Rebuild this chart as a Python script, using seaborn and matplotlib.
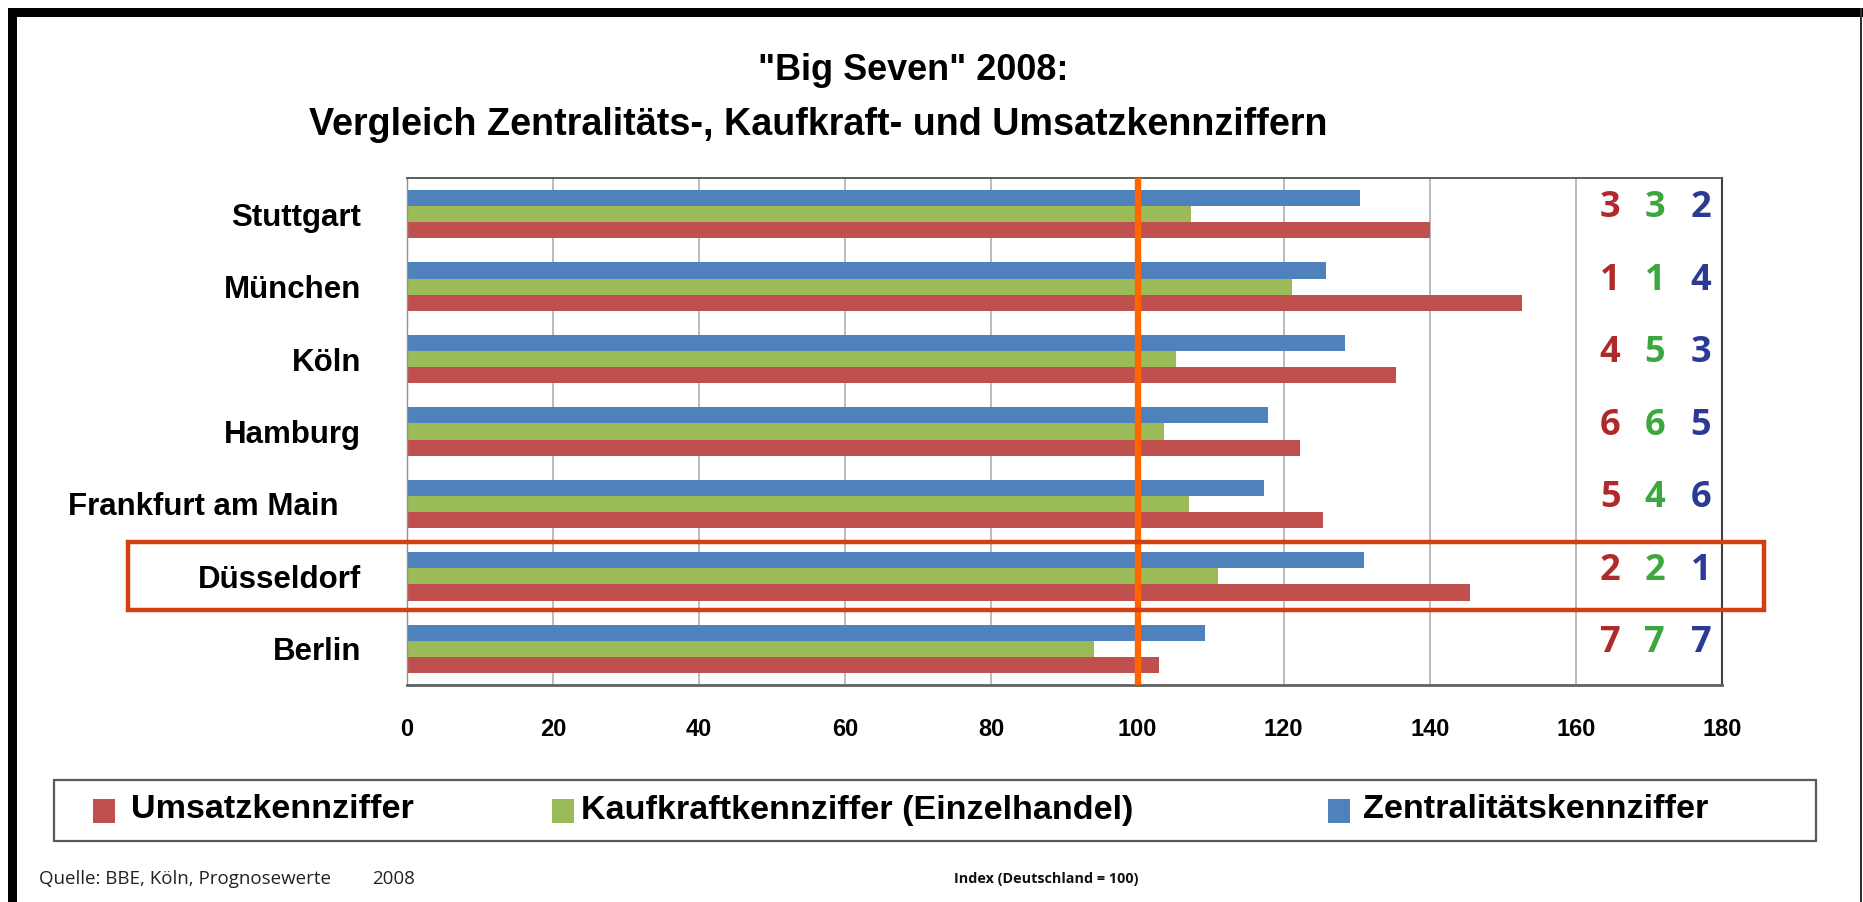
import numpy as np
import pandas as pd
import matplotlib
matplotlib.use("Agg")
import matplotlib.pyplot as plt
import matplotlib.transforms as mtransforms
from matplotlib.patches import Rectangle
import seaborn as sns

# ---------------- data ----------------
cities = ["Stuttgart", "München", "Köln", "Hamburg", "Frankfurt am Main", "Düsseldorf", "Berlin"]
umsatz = [140.0, 152.6, 135.4, 122.2, 125.4, 145.5, 102.9]
kaufkraft = [107.3, 121.1, 105.2, 103.6, 107.0, 111.0, 94.1]
zentralitaet = [130.4, 125.8, 128.4, 117.9, 117.3, 131.0, 109.2]

rank_umsatz = [3, 1, 4, 6, 5, 2, 7]
rank_kaufkraft = [3, 1, 5, 6, 4, 2, 7]
rank_zentral = [2, 4, 3, 5, 6, 1, 7]

series_names = ["Umsatzkennziffer", "Kaufkraftkennziffer (Einzelhandel)", "Zentralitätskennziffer"]
xticks = [0, 20, 40, 60, 80, 100, 120, 140, 160, 180]
reference_value = 100
highlight_city = "Düsseldorf"

title1 = '"Big Seven" 2008:'
title2 = "Vergleich Zentralitäts-, Kaufkraft- und Umsatzkennziffern"
source_text = "Quelle: BBE, Köln, Prognosewerte"
year_text = "2008"
index_text = "Index (Deutschland = 100)"

# ---------------- style ----------------
col_red, col_green, col_blue = "#C0504D", "#9BBB59", "#4F81BD"
rank_cols = ["#B02A2C", "#3EA63E", "#2B3A92"]

sns.set_theme(style="white")
plt.rcParams["font.family"] = ["Liberation Sans", "DejaVu Sans"]
plt.rcParams["text.color"] = "black"
plt.rcParams["xtick.color"] = "black"
plt.rcParams["ytick.color"] = "black"

W, H, DPI = 1863, 902, 100
fig = plt.figure(figsize=(W / DPI, H / DPI), dpi=DPI)
fig.patch.set_facecolor("white")


def px_box(x0, y0, x1, y1):
    """pixel (top-left origin) -> figure fraction [l, b, w, h]"""
    return [x0 / W, 1 - y1 / H, (x1 - x0) / W, (y1 - y0) / H]


ax = fig.add_axes(px_box(407, 178, 1722, 685))

df = pd.DataFrame({
    "city": cities * 3,
    "series": [series_names[0]] * 7 + [series_names[1]] * 7 + [series_names[2]] * 7,
    "value": umsatz + kaufkraft + zentralitaet,
})
hue_order = [series_names[2], series_names[1], series_names[0]]
palette = {series_names[0]: col_red, series_names[1]: col_green, series_names[2]: col_blue}

sns.barplot(data=df, x="value", y="city", hue="series", order=cities, hue_order=hue_order,
            palette=palette, orient="h", width=0.67, errorbar=None, legend=False,
            saturation=1, linewidth=0, ax=ax, zorder=2)

ax.set_xlim(0, 180)
ax.set_ylim(len(cities) - 0.5, -0.5)
ax.set_xticks(xticks)
ax.set_xticklabels([str(t) for t in xticks], fontsize=17, fontweight="bold", color="black")
ax.set_yticks(range(len(cities)))
ax.set_yticklabels(cities, fontsize=22.5, fontweight="bold", color="black")
ax.tick_params(axis="x", length=0, pad=24)
ax.tick_params(axis="y", length=0, pad=33)
ax.set_xlabel("")
ax.set_ylabel("")
ax.xaxis.grid(True, color="#A8A8A8", linewidth=1.1)
ax.yaxis.grid(False)
ax.set_axisbelow(True)
for side, c, lw in [("top", "#505050", 1.3), ("right", "#404040", 1.5),
                    ("bottom", "#606060", 2.0), ("left", "#909090", 1.0)]:
    ax.spines[side].set_visible(True)
    ax.spines[side].set_color(c)
    ax.spines[side].set_linewidth(lw)

# nudge Frankfurt label like in the reference
for lbl in ax.get_yticklabels():
    if lbl.get_text() == "Frankfurt am Main":
        lbl.set_transform(lbl.get_transform() +
                          mtransforms.ScaledTranslation(-23 / DPI, 0, fig.dpi_scale_trans))

# reference line at 100
ax.axvline(reference_value, color="#FF6600", linewidth=4.6, zorder=5)

# rank columns
rank_x = [164.7, 170.8, 177.1]
for j, ranks in enumerate([rank_umsatz, rank_kaufkraft, rank_zentral]):
    for i, r in enumerate(ranks):
        ax.text(rank_x[j], i - 0.08, str(r), ha="center", va="center", fontsize=26,
                fontweight="bold", color=rank_cols[j], family=["Open Sans", "DejaVu Sans"],
                zorder=6)

# highlight box around Düsseldorf
fig.add_artist(Rectangle((128 / W, 1 - 610 / H), (1764 - 128) / W, (610 - 542) / H,
                         transform=fig.transFigure, fill=False, edgecolor="#D2400F",
                         linewidth=3.2, zorder=10))

renderer = fig.canvas.get_renderer()


def fit(t, target_px):
    w = t.get_window_extent(renderer).width
    t.set_fontsize(t.get_fontsize() * target_px / w)


# titles
t1 = fig.text(913 / W, 1 - 71 / H, title1, ha="center", va="center", fontsize=26,
              fontweight="bold", color="black")
fit(t1, 311)
t2 = fig.text(818 / W, 1 - 125 / H, title2, ha="center", va="center", fontsize=24,
              fontweight="bold", color="black")
fit(t2, 1025)

# legend box
fig.add_artist(Rectangle((54 / W, 1 - 841 / H), (1816 - 54) / W, (841 - 780) / H,
                         transform=fig.transFigure, fill=False, edgecolor="#5A5A5A",
                         linewidth=1.6, zorder=10))
leg_items = [(series_names[0], col_red, 93, 131),
             (series_names[1], col_green, 552, 581),
             (series_names[2], col_blue, 1328, 1363)]
tl = fig.text(131 / W, 1 - 810 / H, series_names[0], ha="left", va="center",
              fontsize=23, fontweight="bold", color="black")
fit(tl, 283)
leg_fs = tl.get_fontsize()
for name, col, sx, tx in leg_items:
    fig.add_artist(Rectangle((sx / W, 1 - 823 / H), 22 / W, 24 / H,
                             transform=fig.transFigure, facecolor=col, edgecolor="none"))
    if name != series_names[0]:
        fig.text(tx / W, 1 - 810 / H, name, ha="left", va="center",
                 fontsize=leg_fs, fontweight="bold", color="black")

# footer
fs = fig.text(39 / W, 1 - 879 / H, source_text, ha="left", va="center", fontsize=12,
              color="#222222", family=["Open Sans", "DejaVu Sans"])
fit(fs, 291)
fig.text(372 / W, 1 - 879 / H, year_text, ha="left", va="center", fontsize=fs.get_fontsize(),
         color="#222222", family=["Open Sans", "DejaVu Sans"])
fi = fig.text(1046 / W, 1 - 879 / H, index_text, ha="center", va="center", fontsize=11,
              fontweight="bold", color="#111111", family=["Open Sans", "DejaVu Sans"])
fit(fi, 184)

# page frame
fig.add_artist(Rectangle((8 / W, 1 - 17 / H), (W - 8) / W, 9 / H, transform=fig.transFigure,
                         facecolor="black", edgecolor="none", zorder=20))
fig.add_artist(Rectangle((8 / W, 0), 9 / W, 1 - 8 / H, transform=fig.transFigure,
                         facecolor="black", edgecolor="none", zorder=20))
fig.add_artist(Rectangle(((W - 3) / W, 0), 2 / W, 1 - 8 / H, transform=fig.transFigure,
                         facecolor="#303030", edgecolor="none", zorder=20))

fig.savefig("out.png", dpi=DPI, facecolor="white")
